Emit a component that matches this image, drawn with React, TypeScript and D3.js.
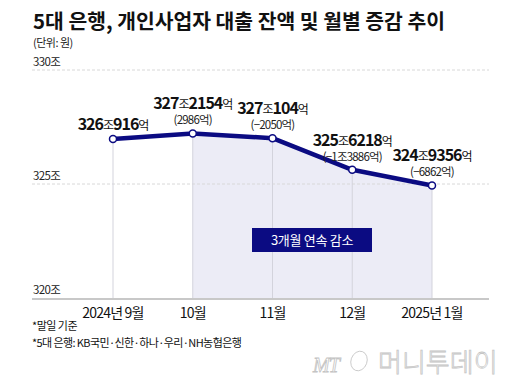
import * as d3 from "d3";

const months = ["2024년 9월", "10월", "11월", "12월", "2025년 1월"];
// balance in 조 원, placed as the points appear in the chart
const balance = [326.97, 327.2154, 327.0104, 325.6218, 324.9356];
const mainLabels = [
  ["326", "조", "916", "억"],
  ["327", "조", "2154", "억"],
  ["327", "조", "104", "억"],
  ["325", "조", "6218", "억"],
  ["324", "조", "9356", "억"],
];
const changeLabels = ["", "(2986억)", "(−2050억)", "(−1조3886억)", "(−6862억)"];
const yTicks = [330, 325, 320];

const W = 521;
const H = 384;
const NAVY = "#0b0b82";
const FONT = "'Noto Sans CJK KR', 'Liberation Sans', sans-serif";

export default function App() {
  const x = d3.scalePoint<string>().domain(months).range([113, 432]);
  const y = d3.scaleLinear().domain([320, 330]).range([298, 70]);

  const pts = balance.map((v, i) => [x(months[i])!, y(v)] as [number, number]);
  const line = d3.line()(pts)!;
  const area = d3
    .area<[number, number]>()
    .x((d) => d[0])
    .y0(y(320))
    .y1((d) => d[1])(pts.slice(1))!;

  return (
    <svg
      width={W}
      height={H}
      style={{ position: "absolute", left: 0, top: 0, background: "#fff" }}
      fontFamily={FONT}
    >
      <text x={33} y={29} fontSize={20} fontWeight="bold" fill="#111" textLength={412} lengthAdjust="spacingAndGlyphs">
        5대 은행, 개인사업자 대출 잔액 및 월별 증감 추이
      </text>
      <text x={33} y={47} fontSize={11} fill="#222" letterSpacing={-0.5}>
        (단위: 원)
      </text>

      <path d={area} fill="#ececf6" />

      {yTicks.slice(0, 2).map((t) => (
        <line key={t} x1={32} x2={489} y1={y(t)} y2={y(t)} stroke="#d8d8d8" strokeDasharray="3,2" />
      ))}
      {yTicks.map((t) => (
        <text key={t} x={33} y={y(t) - 4} fontSize={11.5} fill="#222" letterSpacing={-0.6}>
          {t}조
        </text>
      ))}

      {pts.map((p, i) => (
        <line key={i} x1={p[0]} x2={p[0]} y1={p[1]} y2={y(320)} stroke="#d3d3dc" strokeWidth={1} />
      ))}
      <line x1={32} x2={489} y1={y(320) + 1} y2={y(320) + 1} stroke="#c8c8c8" strokeWidth={2} />

      <path d={line} fill="none" stroke={NAVY} strokeWidth={4.5} strokeLinejoin="round" />
      {pts.map((p, i) => (
        <circle key={i} cx={p[0]} cy={p[1]} r={3.5} fill="#fff" stroke={NAVY} strokeWidth={1.5} />
      ))}

      {pts.map((p, i) => {
        const hasSub = changeLabels[i] !== "";
        const mainY = hasSub ? p[1] - 24 : p[1] - 9;
        const parts = mainLabels[i];
        return (
          <g key={i}>
            <text x={p[0]} y={mainY} textAnchor="middle" fill="#111" letterSpacing={-1}>
              <tspan fontSize={16} fontWeight="bold">{parts[0]}</tspan>
              <tspan fontSize={12}>{parts[1]}</tspan>
              <tspan fontSize={16} fontWeight="bold">{parts[2]}</tspan>
              <tspan fontSize={12}>{parts[3]}</tspan>
            </text>
            {hasSub && (
              <text x={p[0]} y={p[1] - 9} textAnchor="middle" fontSize={11.5} fill="#222" letterSpacing={-0.8}>
                {changeLabels[i]}
              </text>
            )}
          </g>
        );
      })}

      <rect x={252} y={228} width={120} height={24} fill={NAVY} />
      <text x={312} y={245} textAnchor="middle" fontSize={13} fill="#fff" letterSpacing={-0.3}>
        3개월 연속 감소
      </text>

      {months.map((m) => (
        <text key={m} x={x(m)} y={318} textAnchor="middle" fontSize={14} fill="#111" letterSpacing={-0.8}>
          {m}
        </text>
      ))}

      <text x={32} y={330} fontSize={11} fill="#111" letterSpacing={-0.5}>
        *말일 기준
      </text>
      <text x={32} y={347} fontSize={11} fill="#111" letterSpacing={-0.6}>
        *5대 은행: KB국민·신한·하나·우리·NH농협은행
      </text>

      <g fill="#fff" stroke="#c4c4c4" strokeWidth={0.8}>
        <text x={313} y={372} fontSize={20} fontStyle="italic" fontFamily="'Liberation Serif', serif" letterSpacing={-1}>
          MT
        </text>
        <ellipse cx={359} cy={361} rx={8} ry={10} transform="rotate(20 359 361)" fill="none" />
        <text x={378} y={372} fontSize={26} fontWeight={300} letterSpacing={0}>
          머니투데이
        </text>
      </g>
    </svg>
  );
}
